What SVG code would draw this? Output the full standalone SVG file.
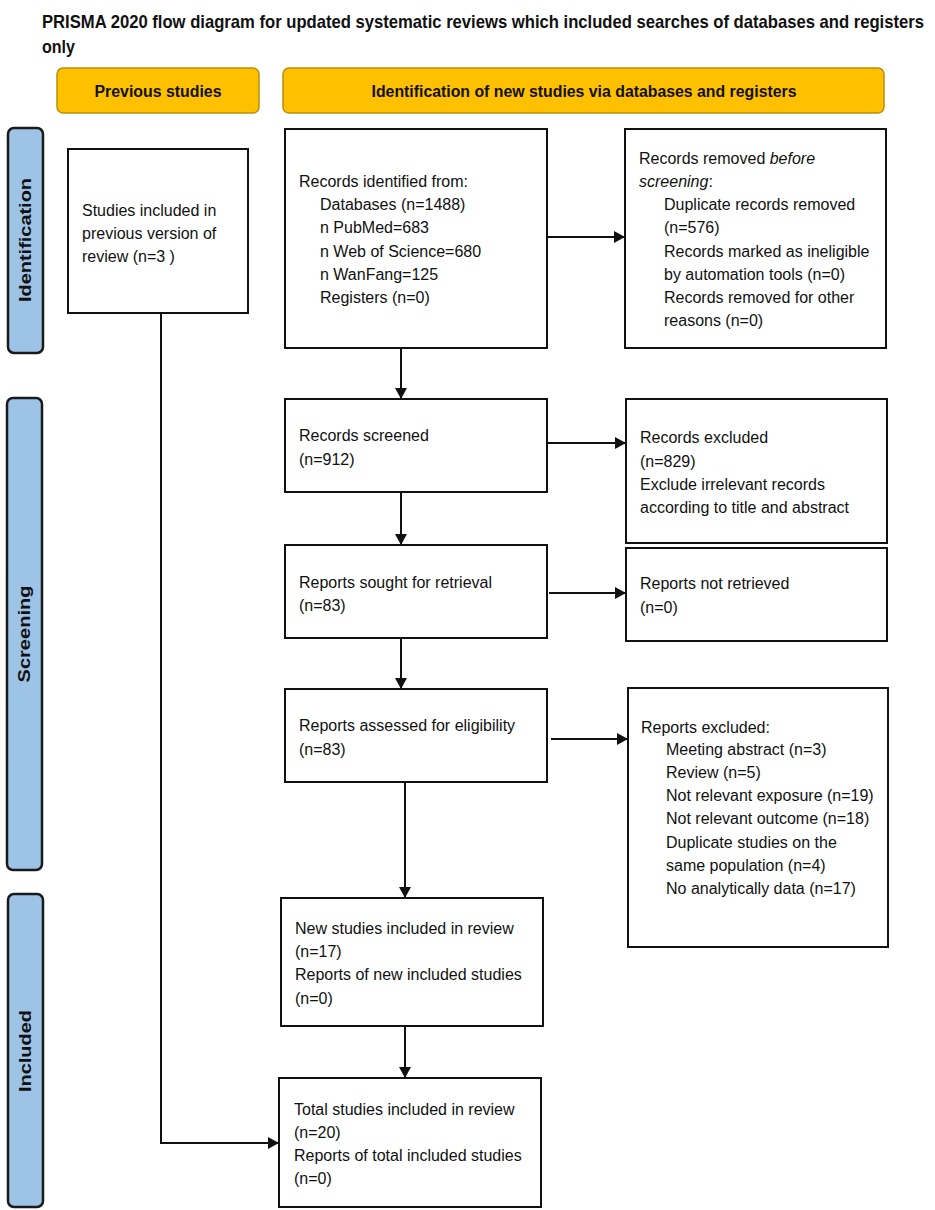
<svg xmlns="http://www.w3.org/2000/svg" width="935" height="1210" viewBox="0 0 935 1210">
<style>
.t{font-family:"Liberation Sans",Arial,sans-serif;font-size:16px;fill:#111}
.hd{font-family:"Liberation Sans",Arial,sans-serif;font-weight:bold;font-size:16px;fill:#111}
.side{font-family:"Liberation Sans",Arial,sans-serif;font-weight:bold;font-size:16px;fill:#111}
.ttl{font-family:"Liberation Sans",Arial,sans-serif;font-weight:bold;font-size:15px;fill:#111}
.box{fill:#fff;stroke:#111;stroke-width:2}
.yel{fill:#FFC000;stroke:#B8900A;stroke-width:1.5}
.blu{fill:#9DC3E6;stroke:#1a1a1a;stroke-width:2.5}
.ln{fill:none;stroke:#111;stroke-width:2}
</style>
<defs>
<marker id="ah" markerUnits="userSpaceOnUse" markerWidth="12" markerHeight="12" refX="11" refY="6" orient="auto">
<path d="M0,0 L11,6 L0,12 z" fill="#111"/>
</marker>
</defs>
<rect width="935" height="1210" fill="#fff"/>
<g id="title">
<text class="ttl" transform="translate(42,28) scale(1,1.22)" x="0" y="0" textLength="882" lengthAdjust="spacingAndGlyphs">PRISMA 2020 flow diagram for updated systematic reviews which included searches of databases and registers</text>
<text class="ttl" transform="translate(42,53) scale(1,1.22)" x="0" y="0" textLength="33" lengthAdjust="spacingAndGlyphs">only</text>
</g>
<g id="hdr-prev">
<rect class="yel" x="57" y="68" width="202" height="45" rx="6"/>
<text class="hd" x="158" y="97" text-anchor="middle" textLength="127" lengthAdjust="spacingAndGlyphs">Previous studies</text>
</g>
<g id="hdr-new">
<rect class="yel" x="283" y="68" width="601" height="45" rx="6"/>
<text class="hd" x="584" y="97" text-anchor="middle" textLength="425" lengthAdjust="spacingAndGlyphs">Identification of new studies via databases and registers</text>
</g>
<g id="side-identification">
<rect class="blu" x="8" y="128" width="35" height="225" rx="6"/>
<text class="side" transform="translate(31,240) rotate(-90)" text-anchor="middle" textLength="124" lengthAdjust="spacingAndGlyphs">Identification</text>
</g>
<g id="side-screening">
<rect class="blu" x="7" y="398" width="35" height="472" rx="6"/>
<text class="side" transform="translate(30,634) rotate(-90)" text-anchor="middle" textLength="97" lengthAdjust="spacingAndGlyphs">Screening</text>
</g>
<g id="side-included">
<rect class="blu" x="8" y="894" width="35" height="313" rx="6"/>
<text class="side" transform="translate(31,1051) rotate(-90)" text-anchor="middle" textLength="82" lengthAdjust="spacingAndGlyphs">Included</text>
</g>
<g id="prev">
<rect class="box" x="68" y="149" width="180" height="164"/>
<text class="t" x="82" y="216">Studies included in</text>
<text class="t" x="82" y="239">previous version of</text>
<text class="t" x="82" y="262">review (n=3 )</text>
</g>
<g id="identified">
<rect class="box" x="285" y="129" width="262" height="219"/>
<text class="t" x="299" y="187">Records identified from:</text>
<text class="t" x="320" y="210">Databases (n=1488)</text>
<text class="t" x="320" y="233">n PubMed=683</text>
<text class="t" x="320" y="257">n Web of Science=680</text>
<text class="t" x="320" y="280">n WanFang=125</text>
<text class="t" x="320" y="303">Registers (n=0)</text>
</g>
<g id="removed">
<rect class="box" x="625" y="129" width="261" height="219"/>
<text class="t" x="639" y="164">Records removed <tspan font-style="italic">before</tspan></text>
<text class="t" x="639" y="187"><tspan font-style="italic">screening</tspan>:</text>
<text class="t" x="664" y="210">Duplicate records removed</text>
<text class="t" x="664" y="233">(n=576)</text>
<text class="t" x="664" y="257">Records marked as ineligible</text>
<text class="t" x="664" y="280">by automation tools (n=0)</text>
<text class="t" x="664" y="303">Records removed for other</text>
<text class="t" x="664" y="326">reasons (n=0)</text>
</g>
<g id="screened">
<rect class="box" x="285" y="399" width="262" height="93"/>
<text class="t" x="299" y="441">Records screened</text>
<text class="t" x="299" y="465">(n=912)</text>
</g>
<g id="excluded">
<rect class="box" x="626" y="399" width="261" height="144"/>
<text class="t" x="640" y="443">Records excluded</text>
<text class="t" x="640" y="467">(n=829)</text>
<text class="t" x="640" y="490">Exclude irrelevant records</text>
<text class="t" x="640" y="513">according to title and abstract</text>
</g>
<g id="sought">
<rect class="box" x="285" y="545" width="262" height="93"/>
<text class="t" x="299" y="588">Reports sought for retrieval</text>
<text class="t" x="299" y="611">(n=83)</text>
</g>
<g id="notretrieved">
<rect class="box" x="626" y="548" width="261" height="93"/>
<text class="t" x="640" y="589">Reports not retrieved</text>
<text class="t" x="640" y="613">(n=0)</text>
</g>
<g id="assessed">
<rect class="box" x="285" y="689" width="262" height="93"/>
<text class="t" x="299" y="731">Reports assessed for eligibility</text>
<text class="t" x="299" y="755">(n=83)</text>
</g>
<g id="reportsexcluded">
<rect class="box" x="628" y="688" width="260" height="259"/>
<text class="t" x="641" y="733">Reports excluded:</text>
<text class="t" x="666" y="755">Meeting abstract (n=3)</text>
<text class="t" x="666" y="778">Review (n=5)</text>
<text class="t" x="666" y="801">Not relevant exposure (n=19)</text>
<text class="t" x="666" y="824">Not relevant outcome (n=18)</text>
<text class="t" x="666" y="848">Duplicate studies on the</text>
<text class="t" x="666" y="871">same population (n=4)</text>
<text class="t" x="666" y="894">No analytically data (n=17)</text>
</g>
<g id="newstudies">
<rect class="box" x="281" y="898" width="262" height="128"/>
<text class="t" x="295" y="934">New studies included in review</text>
<text class="t" x="295" y="957">(n=17)</text>
<text class="t" x="295" y="980">Reports of new included studies</text>
<text class="t" x="295" y="1004">(n=0)</text>
</g>
<g id="total">
<rect class="box" x="279" y="1078" width="262" height="129"/>
<text class="t" x="294" y="1115">Total studies included in review</text>
<text class="t" x="294" y="1138">(n=20)</text>
<text class="t" x="294" y="1161">Reports of total included studies</text>
<text class="t" x="294" y="1184">(n=0)</text>
</g>
<g id="connectors">
<line class="ln" x1="547" y1="237" x2="625" y2="237" marker-end="url(#ah)"/>
<line class="ln" x1="401" y1="348" x2="401" y2="399" marker-end="url(#ah)"/>
<line class="ln" x1="547" y1="443" x2="626" y2="443" marker-end="url(#ah)"/>
<line class="ln" x1="401" y1="492" x2="401" y2="545" marker-end="url(#ah)"/>
<line class="ln" x1="549" y1="593" x2="626" y2="593" marker-end="url(#ah)"/>
<line class="ln" x1="401" y1="638" x2="401" y2="689" marker-end="url(#ah)"/>
<line class="ln" x1="551" y1="739" x2="628" y2="739" marker-end="url(#ah)"/>
<line class="ln" x1="405" y1="782" x2="405" y2="898" marker-end="url(#ah)"/>
<line class="ln" x1="405" y1="1026" x2="405" y2="1078" marker-end="url(#ah)"/>
<path class="ln" d="M161,313 V1143 H279" marker-end="url(#ah)"/>
</g>
</svg>
